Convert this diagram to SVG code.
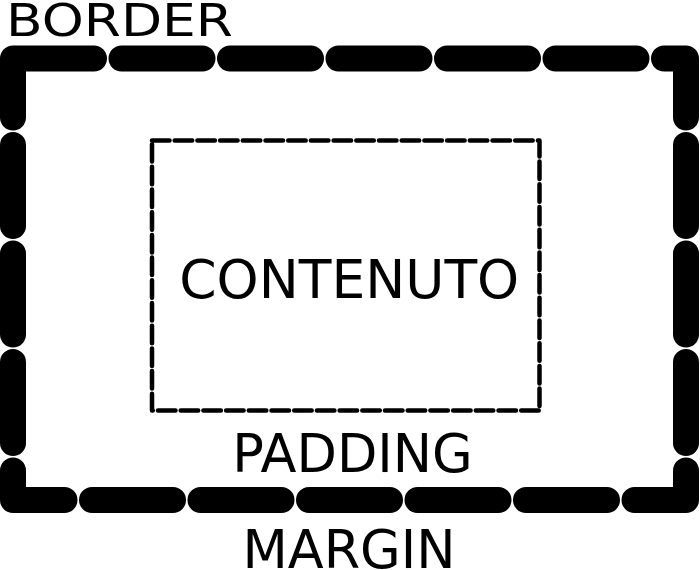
<svg xmlns="http://www.w3.org/2000/svg" width="700" height="570" viewBox="0 0 700 570">
<style>
.lbl{font-family:"DejaVu Sans","Liberation Sans",sans-serif;fill:#000}
.big{font-size:52.5px;text-anchor:middle}
</style>
<rect width="700" height="570" fill="#fff"/>
<g id="border">
<rect x="13" y="58.5" width="673" height="441.5" fill="none" stroke="#000" stroke-width="26" stroke-linecap="round" stroke-linejoin="round" stroke-dasharray="81 27.5"/>
<text class="lbl" x="6" y="36" font-size="45" textLength="227" lengthAdjust="spacingAndGlyphs">BORDER</text>
</g>
<g id="content">
<rect x="152" y="140.5" width="387.5" height="270" fill="none" stroke="#000" stroke-width="4.5" stroke-linecap="round" stroke-linejoin="round" stroke-dasharray="17.5 5.2"/>
<text class="lbl big" x="349.2" y="298.3" textLength="340" lengthAdjust="spacingAndGlyphs">CONTENUTO</text>
</g>
<g id="padding">
<text class="lbl big" x="352.5" y="471.7">PADDING</text>
</g>
<g id="margin">
<text class="lbl big" x="349" y="568">MARGIN</text>
</g>
<g id="connectors"></g>
</svg>
